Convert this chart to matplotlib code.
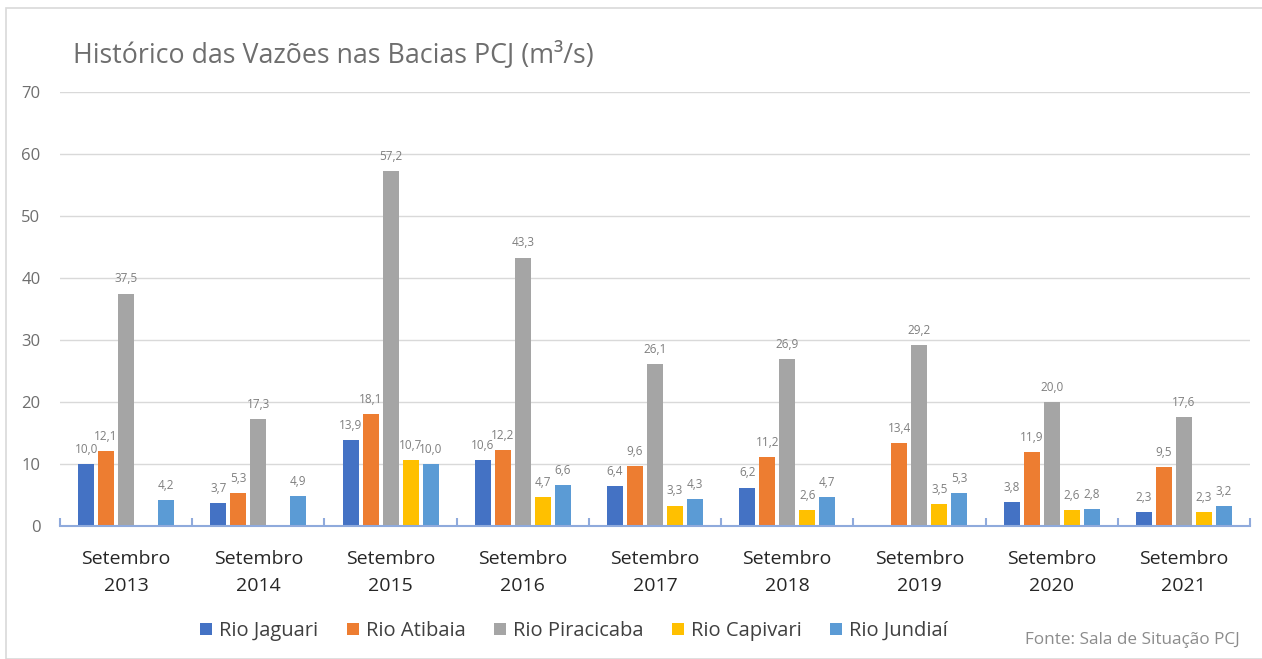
import numpy as np
from matplotlib import pyplot as plt
from matplotlib.patches import Rectangle

plt.rcParams['font.family'] = ['Open Sans', 'DejaVu Sans']

anos = ['2013', '2014', '2015', '2016', '2017', '2018', '2019', '2020', '2021']
series = ['Rio Jaguari', 'Rio Atibaia', 'Rio Piracicaba', 'Rio Capivari', 'Rio Jundiaí']

jaguari = [10.0, 3.7, 13.9, 10.6, 6.4, 6.2, np.nan, 3.8, 2.3]
atibaia = [12.1, 5.3, 18.1, 12.2, 9.6, 11.2, 13.4, 11.9, 9.5]
piracicaba = [37.5, 17.3, 57.2, 43.3, 26.1, 26.9, 29.2, 20.0, 17.6]
capivari = [np.nan, np.nan, 10.7, 4.7, 3.3, 2.6, 3.5, 2.6, 2.3]
jundiai = [4.2, 4.9, 10.0, 6.6, 4.3, 4.7, 5.3, 2.8, 3.2]

colors = ['#4472C4', '#ED7D31', '#A5A5A5', '#FFC000', '#5B9BD5']

fig = plt.figure(figsize=(12.62, 6.59), dpi=100)
ax = fig.add_axes([60 / 1262, 1 - 526 / 659, 1190 / 1262, 434 / 659])

# moldura cinza em volta do gráfico
fig.patches.append(Rectangle((6 / 1262, 0), 1.0, 1 - 8 / 659, transform=fig.transFigure,
                             fill=False, edgecolor='#D9D9D9', linewidth=1.2))

x = np.arange(len(anos))
step = 20 / 132.2
width = 16 / 132.2
dados = [jaguari, atibaia, piracicaba, capivari, jundiai]

for i, (vals, nome, cor) in enumerate(zip(dados, series, colors)):
    pos = x + (i - 2) * step
    ax.bar(pos, vals, width=width, color=cor, label=nome, zorder=3)
    for px, v in zip(pos, vals):
        if np.isnan(v):
            continue
        ax.text(px, v + 1.3, f'{v:.1f}'.replace('.', ','), ha='center', va='bottom',
                fontsize=8.5, color='#7F7F7F')

ax.set_xlim(-0.5, len(anos) - 0.5)
ax.set_ylim(0, 70)
ax.set_yticks(range(0, 71, 10))
ax.yaxis.grid(True, color='#D9D9D9', linewidth=1)
ax.set_axisbelow(True)
for s in ['top', 'right', 'left']:
    ax.spines[s].set_visible(False)
ax.spines['bottom'].set_color('#8FAADC')
ax.spines['bottom'].set_linewidth(1.5)
ax.spines['bottom'].set_zorder(4)

ax.tick_params(axis='y', length=0, labelsize=12, labelcolor='#6E6E6E', pad=14)
ax.set_xticks(x)
ax.set_xticklabels(['Setembro\n' + a for a in anos], fontsize=14, color='#262626',
                   linespacing=1.7)
ax.tick_params(axis='x', length=0, pad=17)
ax.set_xticks(np.arange(-0.5, len(anos)), minor=True)
ax.tick_params(axis='x', which='minor', length=6, direction='in', color='#8FAADC', width=1.5)

fig.text(73 / 1262, 1 - 55 / 659, 'Histórico das Vazões nas Bacias PCJ (m³/s)',
         fontsize=19.3, color='#6E6E6E', va='center', ha='left')

fig.legend(loc='center', bbox_to_anchor=(574 / 1262, 1 - 631 / 659), ncol=5, frameon=False,
           fontsize=14.5, handlelength=0.6, handleheight=0.6, handletextpad=0.35,
           columnspacing=1.4, labelcolor='#404040')

fig.text(1240 / 1262, 1 - 640 / 659, 'Fonte: Sala de Situação PCJ', ha='right', va='center',
         fontsize=12.3, color='#8C8C8C')

plt.savefig('out.png')
